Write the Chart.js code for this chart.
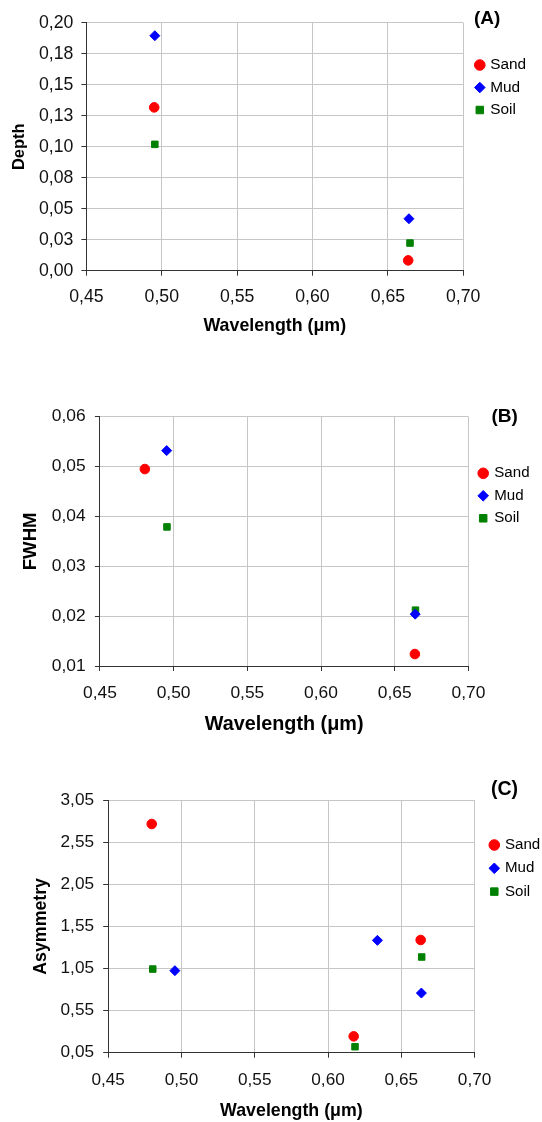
<!DOCTYPE html>
<html>
<head>
<meta charset="utf-8">
<script src="https://cdn.jsdelivr.net/npm/chart.js@4.4.1/dist/chart.umd.min.js"></script>
<style>
  body { margin: 0; background: #fff; }
  .panel { position: absolute; left: 0; width: 542px; }
</style>
</head>
<body>
<div class="panel" style="top:0"><canvas id="chartA" width="542" height="340"></canvas></div>
<div class="panel" style="top:340px"><canvas id="chartB" width="542" height="400"></canvas></div>
<div class="panel" style="top:740px"><canvas id="chartC" width="542" height="382"></canvas></div>
<script>
const seriesNames = ['Sand', 'Mud', 'Soil'];
const wavelengthTicks = ['0,45', '0,50', '0,55', '0,60', '0,65', '0,70'];

// (A) depth
const depthTicks = ['0,00', '0,03', '0,05', '0,08', '0,10', '0,13', '0,15', '0,18', '0,20'];
const sandDepthX = [0.4950, 0.6635];
const sandDepth = [0.1317, 0.0083];
const mudDepthX = [0.4954, 0.6640];
const mudDepth = [0.1895, 0.0419];
const soilDepthX = [0.4954, 0.6647];
const soilDepth = [0.1019, 0.0223];

// (B) FWHM
const fwhmTicks = ['0,01', '0,02', '0,03', '0,04', '0,05', '0,06'];
const sandFwhmX = [0.4805, 0.6637];
const sandFwhm = [0.0495, 0.0124];
const mudFwhmX = [0.4953, 0.6639];
const mudFwhm = [0.0532, 0.0204];
const soilFwhmX = [0.4955, 0.6641];
const soilFwhm = [0.0379, 0.0212];

// (C) asymmetry
const asymTicks = ['0,05', '0,55', '1,05', '1,55', '2,05', '2,55', '3,05'];
const sandAsymX = [0.4797, 0.6175, 0.6632];
const sandAsym = [2.765, 0.244, 1.388];
const mudAsymX = [0.4955, 0.6337, 0.6637];
const mudAsym = [1.024, 1.384, 0.758];
const soilAsymX = [0.4804, 0.6184, 0.6639];
const soilAsym = [1.043, 0.121, 1.186];

// styles
const seriesColors = ['#ff0000', '#0000ff', '#008000'];
const seriesShapes = ['circle', 'rectRot', 'rect'];
const seriesRadius = [4.8, 5, 4.6];
const gridColor = '#c6c6c6';
const axisColor = '#333333';
const fontFamily = '"Liberation Sans", Arial, sans-serif';

Chart.defaults.font.family = fontFamily;
Chart.defaults.color = '#111';

// the bold (A)/(B)/(C) tag above the legend
const panelLetter = {
  id: 'panelLetter',
  afterDraw(chart, args, opts) {
    const ctx = chart.ctx;
    const area = chart.chartArea;
    ctx.save();
    ctx.font = 'bold ' + opts.size + 'px ' + fontFamily;
    ctx.fillStyle = '#000';
    ctx.textAlign = 'left';
    ctx.textBaseline = 'middle';
    ctx.fillText(opts.text, area.right + opts.dx, area.top + opts.dy);
    ctx.restore();
  }
};

function zip(xs, ys) {
  return xs.map((x, i) => ({ x: x, y: ys[i] }));
}

function buildChart(canvasId, panel) {
  const datasets = panel.series.map((points, i) => ({
    label: seriesNames[i],
    data: points,
    pointStyle: seriesShapes[i],
    pointRadius: seriesRadius[i],
    pointBorderWidth: 1,
    backgroundColor: seriesColors[i],
    borderColor: seriesColors[i],
    showLine: false
  }));
  return new Chart(document.getElementById(canvasId), {
    type: 'scatter',
    data: { datasets: datasets },
    plugins: [panelLetter],
    options: {
      responsive: false,
      animation: false,
      events: [],
      layout: { padding: { left: 0, top: 0, bottom: 0, right: panel.padRight } },
      plugins: {
        tooltip: { enabled: false },
        panelLetter: { text: panel.letter, size: panel.letterSize, dx: panel.letterDx, dy: panel.letterDy },
        // empty title only reserves the space above the plot
        title: { display: true, text: '', padding: 0, font: { size: panel.plotTop, lineHeight: 1 } },
        legend: {
          position: 'right',
          align: 'start',
          maxWidth: panel.legendWidth,
          // empty legend title pushes the entries down
          title: { display: true, text: '', padding: 0, font: { size: panel.legendTop, lineHeight: 1 } },
          labels: {
            usePointStyle: true,
            boxWidth: panel.legendBox,
            boxHeight: 7.5,
            padding: panel.legendGap,
            color: '#000',
            font: { size: panel.legendSize }
          }
        }
      },
      scales: {
        x: {
          type: 'linear',
          min: 0.45,
          max: 0.70,
          ticks: {
            stepSize: 0.05,
            autoSkip: false,
            maxRotation: 0,
            padding: panel.xTickPad,
            font: { size: panel.tickSize },
            callback: (v, i) => wavelengthTicks[i]
          },
          grid: { color: gridColor, tickColor: axisColor, tickLength: 5 },
          border: { color: axisColor },
          title: {
            display: true,
            text: 'Wavelength (μm)',
            color: '#000',
            font: { size: panel.xTitleSize, weight: 'bold', lineHeight: 1 },
            padding: { top: 0, bottom: panel.xTitlePad }
          },
          afterFit: s => { s.height = panel.xAxisHeight; }
        },
        y: {
          type: 'linear',
          min: panel.yMin,
          max: panel.yMax,
          ticks: {
            stepSize: panel.yStep,
            autoSkip: false,
            padding: panel.yTickPad,
            font: { size: panel.tickSize },
            callback: (v, i) => panel.yTicks[i]
          },
          grid: { color: gridColor, tickColor: axisColor, tickLength: 5 },
          border: { color: axisColor },
          title: {
            display: true,
            text: panel.yTitle,
            color: '#000',
            font: { size: panel.yTitleSize, weight: 'bold', lineHeight: 1 },
            padding: { top: panel.yTitlePad, bottom: 0 }
          },
          afterFit: s => { s.width = panel.yAxisWidth; }
        },
        // blank axis: keeps a little room between the plot and the legend
        gap: {
          type: 'linear',
          position: 'right',
          display: true,
          grid: { display: false },
          ticks: { display: false },
          border: { display: false },
          afterFit: s => { s.width = panel.gap; }
        }
      }
    }
  });
}

buildChart('chartA', {
  letter: '(A)', yTitle: 'Depth', yTicks: depthTicks,
  yMin: 0, yMax: 0.2, yStep: 0.025,
  series: [zip(sandDepthX, sandDepth), zip(mudDepthX, mudDepth), zip(soilDepthX, soilDepth)],
  plotTop: 22.7, padRight: 10.8, legendWidth: 61.2, gap: 6.8,
  legendTop: 50.2, legendGap: 7.1, legendBox: 5.4, legendSize: 15.4,
  letterSize: 19, letterDx: 10.8, letterDy: -3.5,
  yAxisWidth: 86.4, yTickPad: 8.1, yTitleSize: 16.5, yTitlePad: 10.75, tickSize: 17.7,
  xAxisHeight: 69.3, xTickPad: 11, xTitleSize: 17.8, xTitlePad: 5.1
});

buildChart('chartB', {
  letter: '(B)', yTitle: 'FWHM', yTicks: fwhmTicks,
  yMin: 0.01, yMax: 0.06, yStep: 0.01,
  series: [zip(sandFwhmX, sandFwhm), zip(mudFwhmX, mudFwhm), zip(soilFwhmX, soilFwhm)],
  plotTop: 76.7, padRight: 7.4, legendWidth: 62.35, gap: 3.85,
  legendTop: 118.35, legendGap: 7.4, legendBox: 7.1, legendSize: 15.1,
  letterSize: 19, letterDx: 23.1, letterDy: -0.4,
  yAxisWidth: 99.9, yTickPad: 9.2, yTitleSize: 18.6, yTitlePad: 21.1, tickSize: 17.4,
  xAxisHeight: 74, xTickPad: 11.5, xTitleSize: 19.8, xTitlePad: 5.1
});

buildChart('chartC', {
  letter: '(C)', yTitle: 'Asymmetry', yTicks: asymTicks,
  yMin: 0.05, yMax: 3.05, yStep: 0.5,
  series: [zip(sandAsymX, sandAsym), zip(mudAsymX, mudAsym), zip(soilAsymX, soilAsym)],
  plotTop: 60, padRight: 0, legendWidth: 59.05, gap: 8.35,
  legendTop: 89.25, legendGap: 8.2, legendBox: 6.3, legendSize: 15.1,
  letterSize: 19.5, letterDx: 16.4, letterDy: -10,
  yAxisWidth: 108.2, yTickPad: 9.2, yTitleSize: 17.75, yTitlePad: 32.6, tickSize: 17.2,
  xAxisHeight: 69.3, xTickPad: 12.7, xTitleSize: 17.8, xTitlePad: 2.4
});
</script>
</body>
</html>
